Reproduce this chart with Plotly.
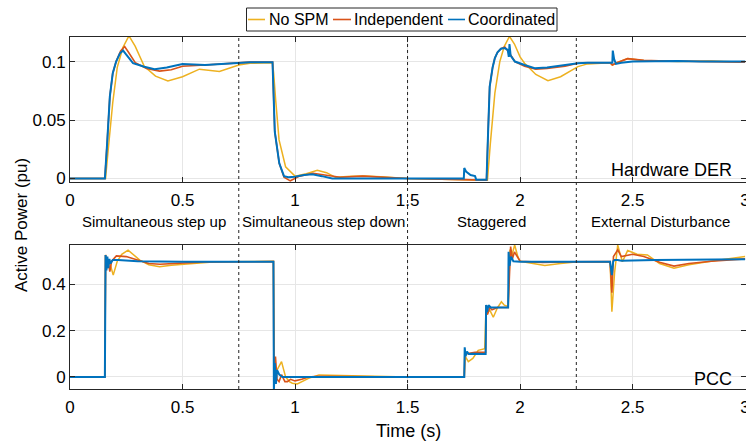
import plotly.graph_objects as go
from plotly.subplots import make_subplots

# ---------------- data (time s, active power pu) ----------------
series_names = ["No SPM", "Independent", "Coordinated"]
series_colors = ["#EDB120", "#D95319", "#0072BD"]
series_widths = [1.5, 1.6, 2.0]

der_nospm = [(0, 0), (0.158, 0), (0.17, 0.025), (0.19, 0.065), (0.21, 0.095), (0.235, 0.112),
             (0.262, 0.122), (0.29, 0.113), (0.33, 0.096), (0.38, 0.0875), (0.435, 0.0835),
             (0.5, 0.087), (0.575, 0.0935), (0.664, 0.0915), (0.75, 0.097), (0.8, 0.0985),
             (0.9, 0.099), (0.905, 0.09), (0.914, 0.067), (0.929, 0.033), (0.958, 0.01),
             (1.0, 0.002), (1.05, 0.004), (1.099, 0.007), (1.14, 0.005), (1.18, 0.001),
             (1.25, 0.002), (1.31, 0.0022), (1.38, 0.0015), (1.445, 0.0005), (1.5, 0.0),
             (1.75, -0.001), (1.8, -0.0015), (1.855, -0.0015), (1.868, 0.03), (1.888, 0.073),
             (1.91, 0.1), (1.93, 0.113), (1.953, 0.1215), (1.975, 0.115), (2.0, 0.104),
             (2.02, 0.0986), (2.07, 0.089), (2.124, 0.0837), (2.18, 0.087), (2.257, 0.0957),
             (2.3, 0.098), (2.4, 0.099), (2.41, 0.097), (2.43, 0.099), (2.478, 0.1025),
             (2.55, 0.101), (2.7, 0.1), (2.85, 0.1005), (3.0, 0.0995)]

der_indep = [(0, 0), (0.155, 0), (0.165, 0.03), (0.177, 0.07), (0.19, 0.09), (0.205, 0.1),
             (0.225, 0.109), (0.243, 0.1129), (0.26, 0.108), (0.29, 0.099), (0.34, 0.094),
             (0.398, 0.0918), (0.45, 0.093), (0.5, 0.096), (0.6, 0.097), (0.7, 0.098),
             (0.75, 0.099), (0.8, 0.0995), (0.9, 0.0995), (0.903, 0.08), (0.91, 0.04),
             (0.93, 0.013), (0.951, 0.001), (0.979, -0.002), (1.02, 0.002), (1.08, 0.0045),
             (1.14, 0.003), (1.2, 0.001), (1.3, 0.002), (1.4, 0.001), (1.5, 0.0),
             (1.75, -0.001), (1.8, -0.0015), (1.851, -0.0015), (1.858, 0.04), (1.865, 0.0786),
             (1.878, 0.095), (1.888, 0.103), (1.9, 0.108), (1.915, 0.111), (1.932, 0.1125),
             (1.95, 0.108), (1.977, 0.1), (2.02, 0.096), (2.07, 0.0935), (2.12, 0.094),
             (2.2, 0.096), (2.257, 0.0986), (2.3, 0.099), (2.4, 0.099), (2.41, 0.097),
             (2.43, 0.099), (2.478, 0.1025), (2.55, 0.101), (2.65, 0.1005), (2.8, 0.1),
             (3.0, 0.0995)]

der_coord = [(0, 0), (0.155, 0), (0.165, 0.03), (0.177, 0.07), (0.19, 0.09), (0.205, 0.1),
             (0.222, 0.107), (0.236, 0.1094), (0.25, 0.106), (0.28, 0.0986), (0.33, 0.0955),
             (0.376, 0.0935), (0.43, 0.095), (0.5, 0.098), (0.6, 0.097), (0.7, 0.098),
             (0.75, 0.099), (0.8, 0.0995), (0.9, 0.0995), (0.903, 0.08), (0.91, 0.04),
             (0.93, 0.013), (0.951, 0.002), (0.97, 0.001), (1.0, 0.0015), (1.04, 0.003),
             (1.077, 0.0037), (1.12, 0.002), (1.165, 0.0), (1.3, 0.0), (1.5, 0.0),
             (1.75, 0.0), (1.752, 0.009), (1.76, 0.006), (1.78, 0.003), (1.8, 0.002),
             (1.805, -0.001), (1.851, -0.001), (1.858, 0.04), (1.865, 0.0786), (1.878, 0.095),
             (1.888, 0.103), (1.9, 0.108), (1.915, 0.111), (1.932, 0.1115), (1.945, 0.11),
             (1.95, 0.104), (1.953, 0.115), (1.958, 0.105), (1.977, 0.1), (2.02, 0.097),
             (2.065, 0.0943), (2.12, 0.095), (2.2, 0.097), (2.257, 0.0986), (2.3, 0.099),
             (2.41, 0.099), (2.412, 0.1094), (2.418, 0.102), (2.426, 0.098), (2.45, 0.099),
             (2.5, 0.1), (2.6, 0.1005), (2.7, 0.1005), (2.8, 0.1), (2.9, 0.1), (3.0, 0.1)]

pcc_nospm = [(0, 0), (0.155, 0), (0.158, 0.527), (0.165, 0.47), (0.175, 0.5), (0.192, 0.44),
             (0.21, 0.5), (0.23, 0.53), (0.258, 0.548), (0.28, 0.53), (0.31, 0.505),
             (0.35, 0.485), (0.398, 0.476), (0.45, 0.482), (0.546, 0.491), (0.62, 0.495),
             (0.69, 0.498), (0.8, 0.5), (0.904, 0.5), (0.908, 0.02), (0.92, 0.03),
             (0.94, 0.066), (0.958, 0.0), (0.975, -0.02), (0.988, -0.027), (1.01, -0.03),
             (1.06, -0.006), (1.106, 0.009), (1.18, 0.007), (1.25, 0.005), (1.327, 0.004),
             (1.4, 0.002), (1.5, 0.0), (1.752, 0.0), (1.756, 0.09), (1.77, 0.066),
             (1.79, 0.08), (1.814, 0.115), (1.843, 0.122), (1.849, 0.31), (1.853, 0.27),
             (1.865, 0.29), (1.881, 0.258), (1.9, 0.3), (1.917, 0.325), (1.93, 0.31),
             (1.947, 0.305), (1.955, 0.55), (1.962, 0.52), (1.976, 0.57), (1.99, 0.52),
             (2.0, 0.5), (2.05, 0.49), (2.11, 0.481), (2.18, 0.49), (2.257, 0.498),
             (2.4, 0.498), (2.408, 0.282), (2.42, 0.45), (2.434, 0.57), (2.445, 0.53),
             (2.455, 0.498), (2.478, 0.546), (2.52, 0.53), (2.566, 0.527), (2.62, 0.49),
             (2.684, 0.47), (2.75, 0.485), (2.847, 0.5), (2.92, 0.51), (3.0, 0.52)]

pcc_indep = [(0, 0), (0.155, 0), (0.158, 0.527), (0.163, 0.48), (0.17, 0.5), (0.177, 0.455),
             (0.185, 0.5), (0.195, 0.51), (0.206, 0.523), (0.25, 0.52), (0.3, 0.505),
             (0.35, 0.49), (0.4, 0.487), (0.5, 0.492), (0.6, 0.497), (0.904, 0.498),
             (0.906, 0.03), (0.913, 0.088), (0.92, -0.01), (0.929, -0.02), (0.94, 0.01),
             (0.955, -0.02), (0.966, -0.02), (0.98, -0.01), (1.0, -0.017), (1.03, -0.01),
             (1.06, 0.0), (1.1, 0.003), (1.2, 0.002), (1.3, 0.002), (1.5, 0.0),
             (1.752, 0.0), (1.755, 0.11), (1.76, 0.1), (1.8, 0.106), (1.847, 0.106),
             (1.85, 0.31), (1.855, 0.27), (1.865, 0.3), (1.875, 0.29), (1.9, 0.3),
             (1.947, 0.3), (1.958, 0.563), (1.966, 0.51), (1.975, 0.54), (2.0, 0.5),
             (2.1, 0.495), (2.2, 0.497), (2.4, 0.498), (2.408, 0.364), (2.415, 0.52),
             (2.434, 0.549), (2.45, 0.52), (2.5, 0.53), (2.55, 0.52), (2.62, 0.495),
             (2.684, 0.479), (2.75, 0.49), (2.85, 0.5), (3.0, 0.51)]

pcc_coord = [(0, 0), (0.155, 0), (0.158, 0.527), (0.162, 0.46), (0.166, 0.52), (0.17, 0.47),
             (0.175, 0.51), (0.18, 0.49), (0.19, 0.505), (0.214, 0.505), (0.3, 0.5),
             (0.5, 0.498), (0.904, 0.498), (0.906, -0.06), (0.91, 0.06), (0.915, -0.03),
             (0.92, 0.03), (0.93, 0.01), (0.944, 0.0), (0.96, 0.0), (1.0, 0.0), (1.5, 0.0),
             (1.752, 0.0), (1.754, 0.128), (1.758, 0.09), (1.764, 0.11), (1.772, 0.099),
             (1.79, 0.1), (1.847, 0.099), (1.849, 0.311), (1.853, 0.28), (1.86, 0.31),
             (1.87, 0.3), (1.947, 0.3), (1.949, 0.541), (1.953, 0.48), (1.96, 0.52),
             (1.97, 0.5), (2.0, 0.498), (2.4, 0.498), (2.408, 0.44), (2.414, 0.5),
             (2.42, 0.505), (2.434, 0.505), (2.45, 0.502), (2.6, 0.505), (2.8, 0.508),
             (3.0, 0.508)]

der_series = [der_nospm, der_indep, der_coord]
pcc_series = [pcc_nospm, pcc_indep, pcc_coord]

region_labels = ["Simultaneous step up", "Simultaneous step down", "Staggered", "External Disturbance"]
region_centers = [0.375, 1.125, 1.875, 2.625]
region_bounds = [0.75, 1.5, 2.25]

x_ticks = [0, 0.5, 1, 1.5, 2, 2.5, 3]
x_ticklabels = ["0", "0.5", "1", "1.5", "2", "2.5", "3"]
der_yticks = [0, 0.05, 0.1]
der_yticklabels = ["0", "0.05", "0.1"]
pcc_yticks = [0, 0.2, 0.4]
pcc_yticklabels = ["0", "0.2", "0.4"]

# ---------------- figure ----------------
FONT = "Liberation Sans, Arial, Helvetica, sans-serif"
AX = "#262626"
GRID = "#e6e6e6"
W, H = 746, 445
L = 70
top_px, bot_px = 37, 389
plot_w = W - L
plot_h = bot_px - top_px


def py(px):
    return (bot_px - px) / plot_h


def px_x(px):
    return (px - L) / plot_w


fig = make_subplots(rows=2, cols=1, shared_xaxes=False, vertical_spacing=0.0)

for name, color, w, data in zip(series_names, series_colors, series_widths, der_series):
    fig.add_trace(go.Scatter(x=[p[0] for p in data], y=[p[1] for p in data], mode="lines",
                             name=name, line=dict(color=color, width=w),
                             legendgroup=name, showlegend=False), row=1, col=1)
for name, color, w, data in zip(series_names, series_colors, series_widths, pcc_series):
    fig.add_trace(go.Scatter(x=[p[0] for p in data], y=[p[1] for p in data], mode="lines",
                             name=name, line=dict(color=color, width=w),
                             legendgroup=name, showlegend=False), row=2, col=1)

axis_common = dict(showline=True, linecolor=AX, linewidth=1, mirror="ticks", ticks="inside",
                   ticklen=5, tickcolor=AX, showgrid=True, gridcolor=GRID, gridwidth=1,
                   zeroline=False, automargin=False,
                   tickfont=dict(family=FONT, size=17, color="#000000"))

fig.update_xaxes(**axis_common, range=[0, 3.004], tickvals=x_ticks, ticktext=x_ticklabels,
                 ticklabelstandoff=3, ticklabeloverflow="allow")
fig.update_xaxes(domain=[0, 1], row=1, col=1)
fig.update_xaxes(domain=[0, 1], row=2, col=1)
fig.update_yaxes(**axis_common)
fig.update_yaxes(domain=[py(182), 1], range=[-0.003, 0.121], tickvals=der_yticks,
                 ticktext=der_yticklabels, row=1, col=1)
fig.update_yaxes(domain=[0, py(245)], range=[-0.052, 0.57], tickvals=pcc_yticks,
                 ticktext=pcc_yticklabels, row=2, col=1)

# region boundaries
for xb in region_bounds:
    fig.add_shape(type="line", xref="x", yref="paper", x0=xb, x1=xb, y0=0, y1=1,
                  line=dict(color="#222222", width=1, dash="3px,3px"))

# region labels
for txt, xc in zip(region_labels, region_centers):
    fig.add_annotation(text=txt, xref="x", yref="paper", x=xc, y=py(221), showarrow=False,
                       font=dict(family=FONT, size=15, color="#000000"), xanchor="center",
                       yanchor="middle")

fig.add_annotation(text="Hardware DER", xref="paper", yref="paper", x=px_x(734), y=py(170),
                   xanchor="right", yanchor="middle", showarrow=False,
                   font=dict(family=FONT, size=18, color="#000000"))
fig.add_annotation(text="PCC", xref="paper", yref="paper", x=px_x(734), y=py(379),
                   xanchor="right", yanchor="middle", showarrow=False,
                   font=dict(family=FONT, size=18, color="#000000"))

# axis titles
fig.add_annotation(text="Active Power (pu)", xref="paper", yref="paper", x=px_x(21), y=py(225),
                   textangle=-90, showarrow=False, xanchor="center", yanchor="middle",
                   font=dict(family=FONT, size=17, color="#000000"))
fig.add_annotation(text="Time (s)", xref="paper", yref="paper", x=px_x(408), y=py(431),
                   showarrow=False, xanchor="center", yanchor="middle",
                   font=dict(family=FONT, size=18, color="#000000"))

# legend (box, line samples, labels) in the top margin
leg_box = (246.5, 557, 8, 31)
leg_lines = [(248, 265), (333, 351), (448, 465)]
leg_text_x = [266.5, 351.5, 465.5]
leg_y = 19.5
fig.add_shape(type="rect", xref="paper", yref="paper", x0=px_x(leg_box[0]), x1=px_x(leg_box[1]),
              y0=py(leg_box[3]), y1=py(leg_box[2]), line=dict(color=AX, width=1),
              fillcolor="white", layer="above")
for (a, b), tx, name, color in zip(leg_lines, leg_text_x, series_names, series_colors):
    fig.add_shape(type="line", xref="paper", yref="paper", x0=px_x(a), x1=px_x(b),
                  y0=py(leg_y), y1=py(leg_y), line=dict(color=color, width=1.6), layer="above")
    fig.add_annotation(text=name, xref="paper", yref="paper", x=px_x(tx), y=py(leg_y + 0.5),
                       xanchor="left", yanchor="middle", showarrow=False,
                       font=dict(family=FONT, size=16, color="#000000"))

fig.update_layout(
    width=W, height=H, template="none",
    paper_bgcolor="white", plot_bgcolor="white",
    margin=dict(l=L, r=0, t=top_px, b=H - bot_px, autoexpand=False),
    font=dict(family=FONT, size=14, color="#000000"),
    showlegend=False,
)

fig.write_html("out.html", config={"displayModeBar": False},
               post_script="document.body.style.margin='0px';document.body.style.overflow='hidden';")
